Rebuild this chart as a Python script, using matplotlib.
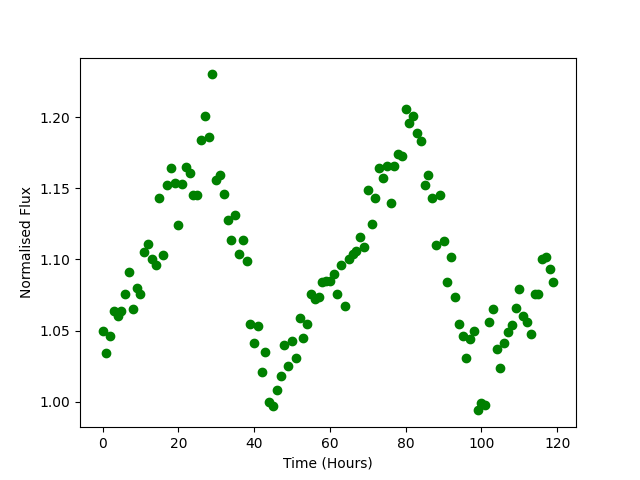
import matplotlib
matplotlib.use("Agg")
import matplotlib.pyplot as plt
import numpy as np

hours = list(range(120))
flux = [1.050, 1.034, 1.046, 1.064, 1.060, 1.064, 1.076, 1.091, 1.065, 1.080,
        1.076, 1.105, 1.111, 1.100, 1.096, 1.143, 1.103, 1.152, 1.164, 1.154,
        1.124, 1.153, 1.165, 1.161, 1.145, 1.145, 1.184, 1.201, 1.186, 1.230,
        1.156, 1.159, 1.146, 1.128, 1.114, 1.131, 1.104, 1.114, 1.099, 1.055,
        1.041, 1.053, 1.021, 1.035, 1.000, 0.997, 1.008, 1.018, 1.040, 1.025,
        1.043, 1.031, 1.059, 1.045, 1.055, 1.076, 1.072, 1.074, 1.084, 1.085,
        1.085, 1.090, 1.076, 1.096, 1.067, 1.100, 1.104, 1.106, 1.116, 1.109,
        1.149, 1.125, 1.143, 1.164, 1.157, 1.166, 1.140, 1.166, 1.174, 1.173,
        1.206, 1.196, 1.201, 1.189, 1.183, 1.152, 1.159, 1.143, 1.110, 1.145,
        1.113, 1.084, 1.102, 1.074, 1.055, 1.046, 1.031, 1.044, 1.050, 0.994,
        0.999, 0.998, 1.056, 1.065, 1.037, 1.024, 1.041, 1.049, 1.054, 1.066,
        1.079, 1.060, 1.056, 1.048, 1.076, 1.076, 1.100, 1.102, 1.093, 1.084]

fig, ax = plt.subplots(figsize=(6.4, 4.8), dpi=100)
ax.plot(hours, flux, 'o', color='green')
ax.set_xlabel('Time (Hours)')
ax.set_ylabel('Normalised Flux')
fig.savefig('out.png')
